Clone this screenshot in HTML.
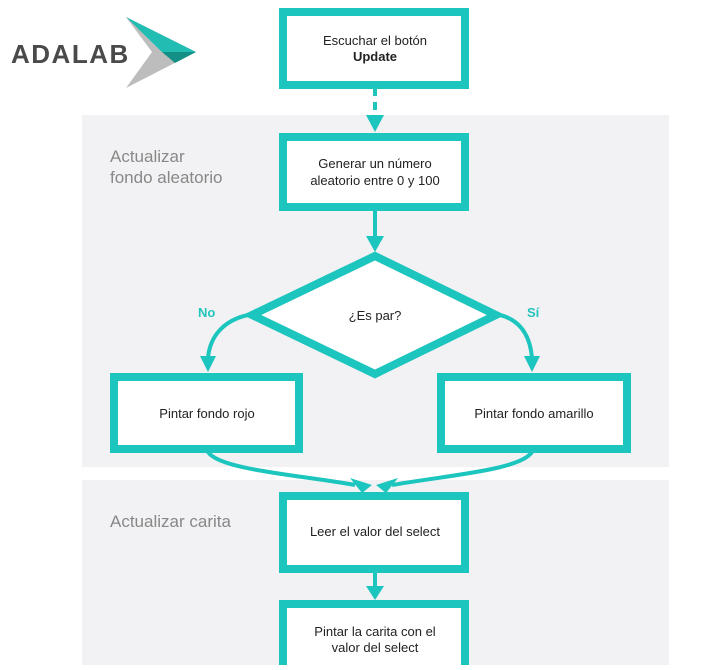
<!DOCTYPE html>
<html><head><meta charset="utf-8"><style>
body{margin:0;width:719px;height:665px;background:#fff;overflow:hidden;font-family:"Liberation Sans",sans-serif}
</style></head><body>
<svg width="719" height="665" viewBox="0 0 719 665" xmlns="http://www.w3.org/2000/svg" font-family="Liberation Sans, sans-serif">
<rect x="82" y="115" width="587" height="352" fill="#f2f2f4"/>
<rect x="82" y="480" width="587" height="185" fill="#f2f2f4"/>
<!-- logo -->
<polygon points="126,17 196,52 126,88 152,52" fill="#bdbdbd"/>
<polygon points="126,17 196,52 162,52" fill="#22bdb2"/>
<polygon points="162,52 196,52 175,63" fill="#138f86"/>
<text x="11" y="63" font-size="26" font-weight="bold" fill="#4a4a4a" letter-spacing="1.5">ADALAB</text>
<g fill="#fff" stroke="#1cc5bd" stroke-width="8">
<rect x="283" y="12" width="182" height="73"/>
<rect x="283" y="137" width="182" height="70"/>
<polygon points="375,256 496,315 375,374 252,315"/>
<rect x="114" y="377" width="185" height="72"/>
<rect x="441" y="377" width="186" height="72"/>
<rect x="283" y="496" width="182" height="73"/>
<rect x="283" y="604" width="182" height="70"/>
</g>
<g stroke="#1cc5bd" stroke-width="4" fill="none">
<line x1="375" y1="88" x2="375" y2="118" stroke-dasharray="8,6"/>
<line x1="375" y1="210" x2="375" y2="238"/>
<path d="M248,315 C225,320 210,335 208,358"/>
<path d="M500,315 C520,320 530,335 532,358"/>
<path d="M208,452 C220,470 300,475 355,485"/>
<path d="M532,452 C520,470 450,475 392,485"/>
<line x1="375" y1="572" x2="375" y2="588"/>
</g>
<g fill="#1cc5bd">
<polygon points="366,115 384,115 375,132"/>
<polygon points="366,236 384,236 375,252"/>
<polygon points="200,356 216,356 208,372"/>
<polygon points="524,356 540,356 532,372"/>
<polygon points="350,478 372,485 362,493"/>
<polygon points="398,478 376,485 386,493"/>
<polygon points="366,586 384,586 375,600"/>
</g>
<g font-size="13" fill="#222" text-anchor="middle">
<text x="375" y="45">Escuchar el botón</text>
<text x="375" y="61" font-weight="bold">Update</text>
<text x="375" y="168">Generar un número</text>
<text x="375" y="185">aleatorio entre 0 y 100</text>
<text x="375" y="320">¿Es par?</text>
<text x="207" y="418">Pintar fondo rojo</text>
<text x="534" y="418">Pintar fondo amarillo</text>
<text x="375" y="536">Leer el valor del select</text>
<text x="375" y="636">Pintar la carita con el</text>
<text x="375" y="652">valor del select</text>
</g>
<g font-size="13" font-weight="bold" fill="#22c5bb">
<text x="198" y="317">No</text>
<text x="527" y="317">Sí</text>
</g>
<g font-size="17" fill="#888">
<text x="110" y="162">Actualizar</text>
<text x="110" y="183">fondo aleatorio</text>
<text x="110" y="527">Actualizar carita</text>
</g>
</svg>
</body></html>
